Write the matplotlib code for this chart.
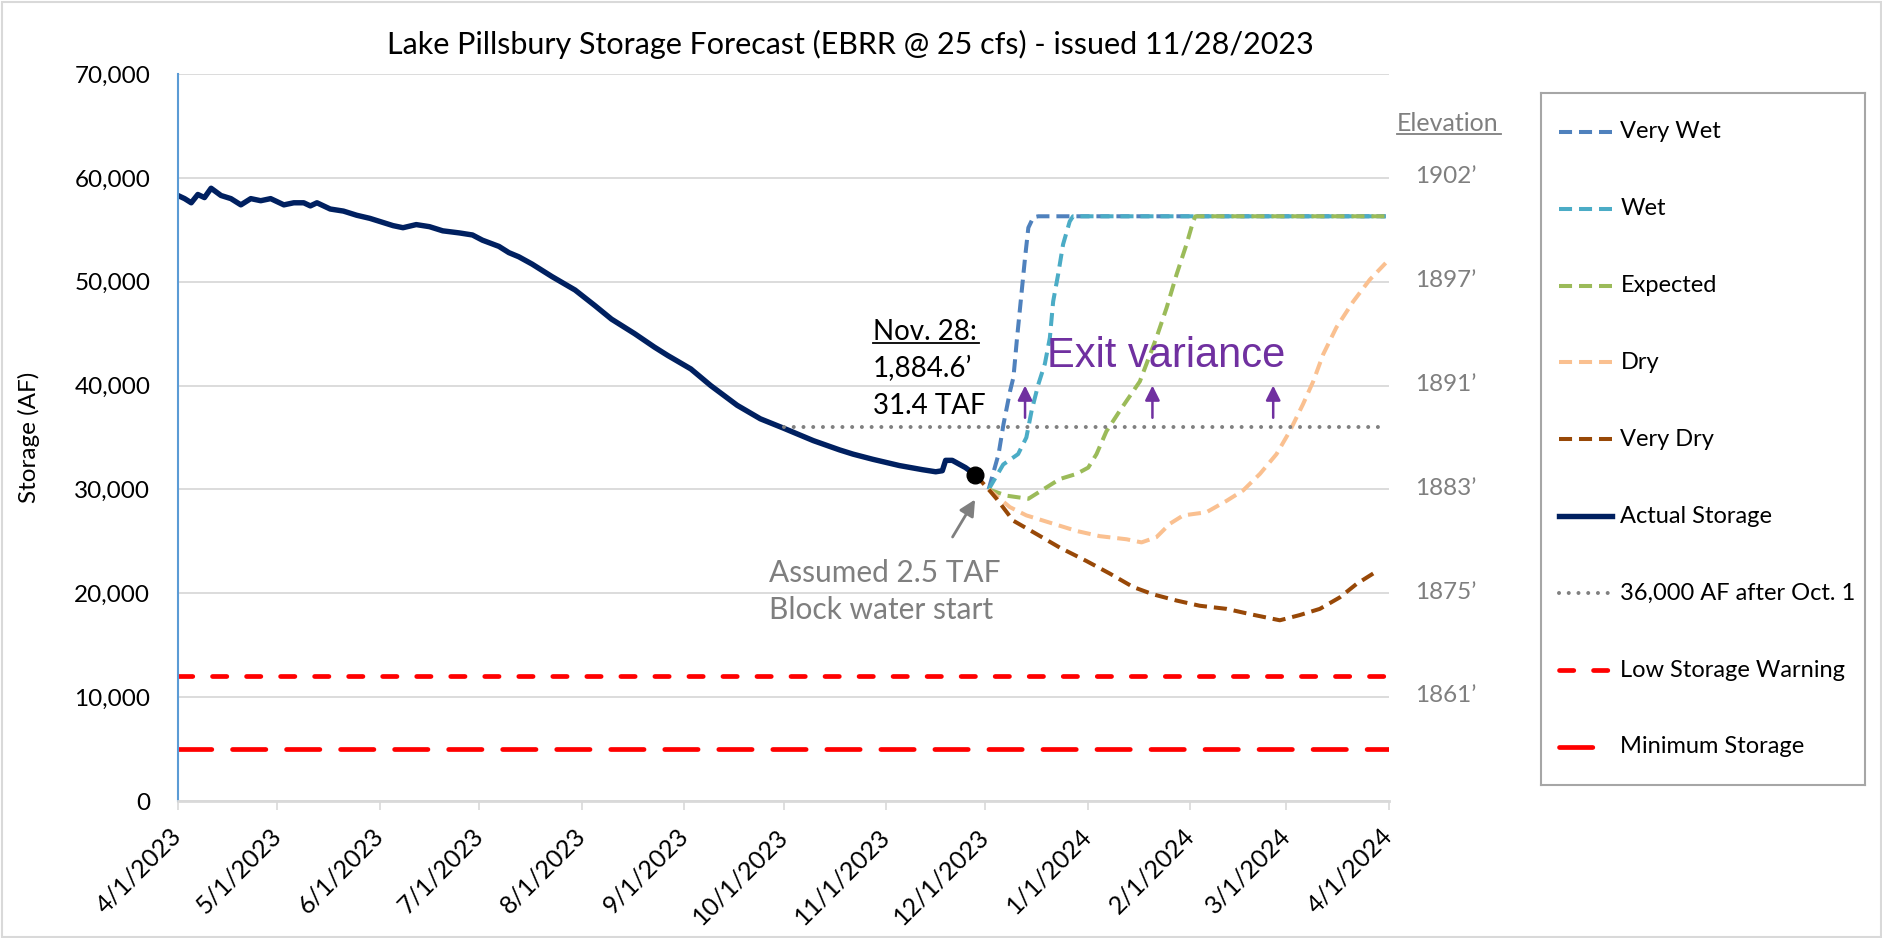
import numpy as np
import matplotlib.pyplot as plt
import matplotlib.dates as mdates
from matplotlib.lines import Line2D
from matplotlib.patches import Rectangle

plt.rcParams['font.family'] = ['Lato', 'DejaVu Sans']
plt.rcParams['lines.scale_dashes'] = False

# ---- data (days after 4/1/2023, storage in AF) ----
start = mdates.datestr2num('2023-04-01')

actual_days = [0, 2, 4, 6, 8, 10, 13, 16, 19, 22, 25, 28, 30, 32, 35, 38, 40, 42,
               46, 50, 54, 58, 61, 65, 68, 72, 76, 80, 85, 89, 92, 97, 100, 103,
               107, 113, 120, 126, 131, 138, 144, 148, 155, 161, 169, 176, 183,
               192, 200, 204, 210, 218, 225, 229, 231, 232, 234, 238, 241]
actual_af = [58300, 58000, 57600, 58400, 58100, 59000, 58300, 58000, 57400, 58000,
             57800, 58000, 57700, 57400, 57600, 57600, 57300, 57600, 57000, 56800,
             56400, 56100, 55800, 55400, 55200, 55500, 55300, 54900, 54700, 54500,
             54000, 53400, 52800, 52400, 51700, 50500, 49200, 47700, 46400, 45000,
             43700, 42900, 41600, 40000, 38100, 36800, 35900, 34700, 33800, 33400,
             32900, 32300, 31900, 31700, 31800, 32800, 32800, 32100, 31400]

very_wet_days = [245, 248, 249.5, 251.5, 252.5, 253.5, 255, 256, 257, 258.5, 260, 365]
very_wet_af = [30000, 33400, 36300, 39500, 40800, 44300, 49100, 52300, 55200, 56200,
               56300, 56300]

wet_days = [245, 249.4, 253.9, 256.4, 258, 260, 262, 263.5, 264.5, 266, 267.5, 269.5,
            270.5, 365]
wet_af = [30000, 32400, 33400, 35000, 37600, 40100, 42100, 44600, 48100, 50700, 53600,
          55800, 56300, 56300]

expected_days = [245, 250.4, 257, 261.5, 266.5, 271.6, 275.1, 277.6, 280.6, 284.7,
                 290.7, 295.7, 298.8, 301.8, 304.8, 306.8, 307.5, 365]
expected_af = [30000, 29400, 29100, 30000, 31000, 31500, 32100, 33400, 35600, 37600,
               40400, 44600, 47500, 50700, 53600, 55800, 56300, 56300]

dry_days = [245, 251.4, 256.4, 264.5, 271.6, 278.6, 286.7, 291.2, 295.7, 299.8, 303.8,
            310.8, 316.9, 321.9, 327, 332, 336, 340, 343.1, 346.1, 350.1, 355.2, 360.2,
            365]
dry_af = [30000, 28300, 27500, 26700, 26000, 25500, 25200, 24900, 25400, 26700, 27500,
          27800, 28900, 29900, 31500, 33400, 35600, 38200, 40400, 43000, 45600, 48100,
          50200, 51800]

very_dry_days = [241, 245, 247.4, 252.4, 259.5, 266.5, 274.6, 281.6, 288.7, 294.7,
                 301.8, 308.8, 316.9, 323.9, 333, 339, 345.1, 351.1, 356.2, 361.7]
very_dry_af = [31400, 30000, 29100, 27000, 25700, 24400, 23100, 21900, 20600, 19900,
               19300, 18800, 18500, 18000, 17400, 17900, 18500, 19600, 20900, 22000]

target_days = [183, 363]
target_af = [36000, 36000]
low_warning_af = 12000
minimum_af = 5000

nov28_day = 241
nov28_af = 31400
exit_arrow_days = [256, 294.5, 331]

tick_dates = ['2023-04-01', '2023-05-01', '2023-06-01', '2023-07-01', '2023-08-01',
              '2023-09-01', '2023-10-01', '2023-11-01', '2023-12-01', '2024-01-01',
              '2024-02-01', '2024-03-01', '2024-04-01']
tick_labels = ['4/1/2023', '5/1/2023', '6/1/2023', '7/1/2023', '8/1/2023', '9/1/2023',
               '10/1/2023', '11/1/2023', '12/1/2023', '1/1/2024', '2/1/2024',
               '3/1/2024', '4/1/2024']
elev_af = [60000, 50000, 40000, 30000, 20000, 10000]
elev_labels = ['1902\u2019', '1897\u2019', '1891\u2019', '1883\u2019', '1875\u2019',
               '1861\u2019']

# ---- styles ----
fdash = (9.4, 5.0)
styles = {
    'Very Wet': dict(color='#4F81BD', lw=2.9, dashes=fdash),
    'Wet': dict(color='#4BACC6', lw=2.9, dashes=fdash),
    'Expected': dict(color='#9BBB59', lw=2.9, dashes=fdash),
    'Dry': dict(color='#FAC090', lw=2.9, dashes=fdash),
    'Very Dry': dict(color='#984807', lw=2.9, dashes=fdash),
    'Actual Storage': dict(color='#002060', lw=3.9),
    '36,000 AF after Oct. 1': dict(color='#808080', lw=2.9, dashes=(0.01, 7.0),
                                   dash_capstyle='round'),
    'Low Storage Warning': dict(color='#FF0000', lw=3.4, dashes=(10.3, 14.2),
                                dash_capstyle='round'),
    'Minimum Storage': dict(color='#FF0000', lw=3.4, dashes=(24.0, 14.9),
                            dash_capstyle='round'),
}

def dnum(days):
    return start + np.asarray(days, dtype=float)

W, H = 1883, 938
fig = plt.figure(figsize=(W / 100, H / 100), dpi=100)
fig.patches.append(Rectangle((0.001, 0.001), 0.998, 0.997, transform=fig.transFigure,
                             fill=False, edgecolor='#D9D9D9', lw=1.5))
ax = fig.add_axes([178 / W, 137 / H, 1211 / W, 727 / H])

ax.plot(dnum(very_wet_days), very_wet_af, **styles['Very Wet'])
ax.plot(dnum(wet_days), wet_af, **styles['Wet'])
ax.plot(dnum(expected_days), expected_af, **styles['Expected'])
ax.plot(dnum(dry_days), dry_af, **styles['Dry'])
ax.plot(dnum(very_dry_days), very_dry_af, **styles['Very Dry'])
ax.plot(dnum(actual_days), actual_af, **styles['Actual Storage'])
ax.plot(dnum(target_days), target_af, **styles['36,000 AF after Oct. 1'])
ax.plot(dnum([0, 366]), [low_warning_af] * 2, **styles['Low Storage Warning'])
ax.plot(dnum([0, 366]), [minimum_af] * 2, **styles['Minimum Storage'])
ax.plot(dnum([nov28_day]), [nov28_af], 'o', color='black', ms=12, zorder=5)

ax.set_xlim(dnum([0, 366]))
ax.set_ylim(0, 70000)
ax.set_yticks(range(0, 70001, 10000))
ax.set_yticklabels([f'{v:,}' for v in range(0, 70001, 10000)])
ax.set_xticks([mdates.datestr2num(d) for d in tick_dates])
ax.set_xticklabels(tick_labels, rotation=45, ha='right', va='center',
                   rotation_mode='anchor')
ax.tick_params(axis='y', length=0, pad=20, labelsize=17.5)
ax.tick_params(axis='x', length=6.5, width=1.2, color='#D9D9D9', pad=16, labelsize=18)
ax.yaxis.grid(True, color='#D9D9D9', lw=1.3)
ax.set_axisbelow(True)
for s in ['top', 'right']:
    ax.spines[s].set_visible(False)
ax.spines['left'].set_color('#5B9BD5')
ax.spines['left'].set_linewidth(1.5)
ax.spines['bottom'].set_color('#D9D9D9')
ax.spines['bottom'].set_linewidth(2.0)

ax.set_ylabel('Storage (AF)', fontsize=17.5)
ax.yaxis.set_label_coords(-0.114, 0.5)

fig.text(850 / W, 1 - 44 / H,
         'Lake Pillsbury Storage Forecast (EBRR @ 25 cfs) - issued 11/28/2023',
         ha='center', va='center', fontsize=22)

# elevation labels on the right
gray = '#7F7F7F'
for v, lab in zip(elev_af, elev_labels):
    ax.annotate(lab, xy=(1.047, v), xycoords=('axes fraction', 'data'),
                xytext=(0, -3.8), textcoords='offset points', ha='center',
                va='baseline', fontsize=17.5, color=gray, annotation_clip=False)
elev_title = ax.text(1.0487, 0.921, 'Elevation', transform=ax.transAxes, ha='center',
                     va='baseline', fontsize=18, color=gray)

# annotations
nov_lines = ['Nov. 28:', '1,884.6\u2019', '31.4 TAF']
nov_base = [44390, 40840, 37240]
nov_texts = [ax.text(dnum(210)[()], b, t, fontsize=20, va='baseline', ha='left')
             for t, b in zip(nov_lines, nov_base)]
ax.text(dnum(262.7)[()], 41800, 'Exit variance', fontsize=30, color='#7030A0',
        family=['Liberation Sans', 'DejaVu Sans'], va='baseline', ha='left')
for d in exit_arrow_days:
    ax.annotate('', xy=(dnum(d)[()], 40000), xytext=(dnum(d)[()], 36900),
                arrowprops=dict(arrowstyle='-|>', color='#7030A0', lw=1.8,
                                mutation_scale=22, shrinkA=0, shrinkB=0))
ax.annotate('', xy=(dnum(240.9)[()], 29030), xytext=(dnum(234.1)[()], 25420),
            arrowprops=dict(arrowstyle='-|>', color=gray, lw=2.0,
                            mutation_scale=24, shrinkA=0, shrinkB=0))
ax.text(dnum(178.6)[()], 21090, 'Assumed 2.5 TAF', fontsize=21.5, color=gray,
        va='baseline', ha='left')
ax.text(dnum(178.6)[()], 17500, 'Block water start', fontsize=21.5, color=gray,
        va='baseline', ha='left')

# legend box drawn by hand
lax = fig.add_axes([1541 / W, (H - 785) / H, 324 / W, 692 / H])
lax.set_xlim(0, 1)
lax.set_ylim(0, 1)
lax.set_xticks([])
lax.set_yticks([])
for s in lax.spines.values():
    s.set_color('#A6A6A6')
    s.set_linewidth(1.5)
rows = np.linspace(0.944, 0.055, len(styles))
for y, (name, st) in zip(rows, styles.items()):
    lax.plot([0.055, 0.218], [y, y], **st)
    lax.text(0.245, y, name, fontsize=17, va='center', ha='left')

# underlines
fig.canvas.draw()
r = fig.canvas.get_renderer()
for t in [nov_texts[0], elev_title]:
    bb = t.get_window_extent(r)
    yb = t.get_transform().transform(t.get_position())[1] - 3
    fig.add_artist(Line2D([bb.x0 / W, (bb.x1 + 2) / W], [yb / H, yb / H],
                          color=t.get_color(), lw=1.3))

fig.savefig('out.png', dpi=100)
